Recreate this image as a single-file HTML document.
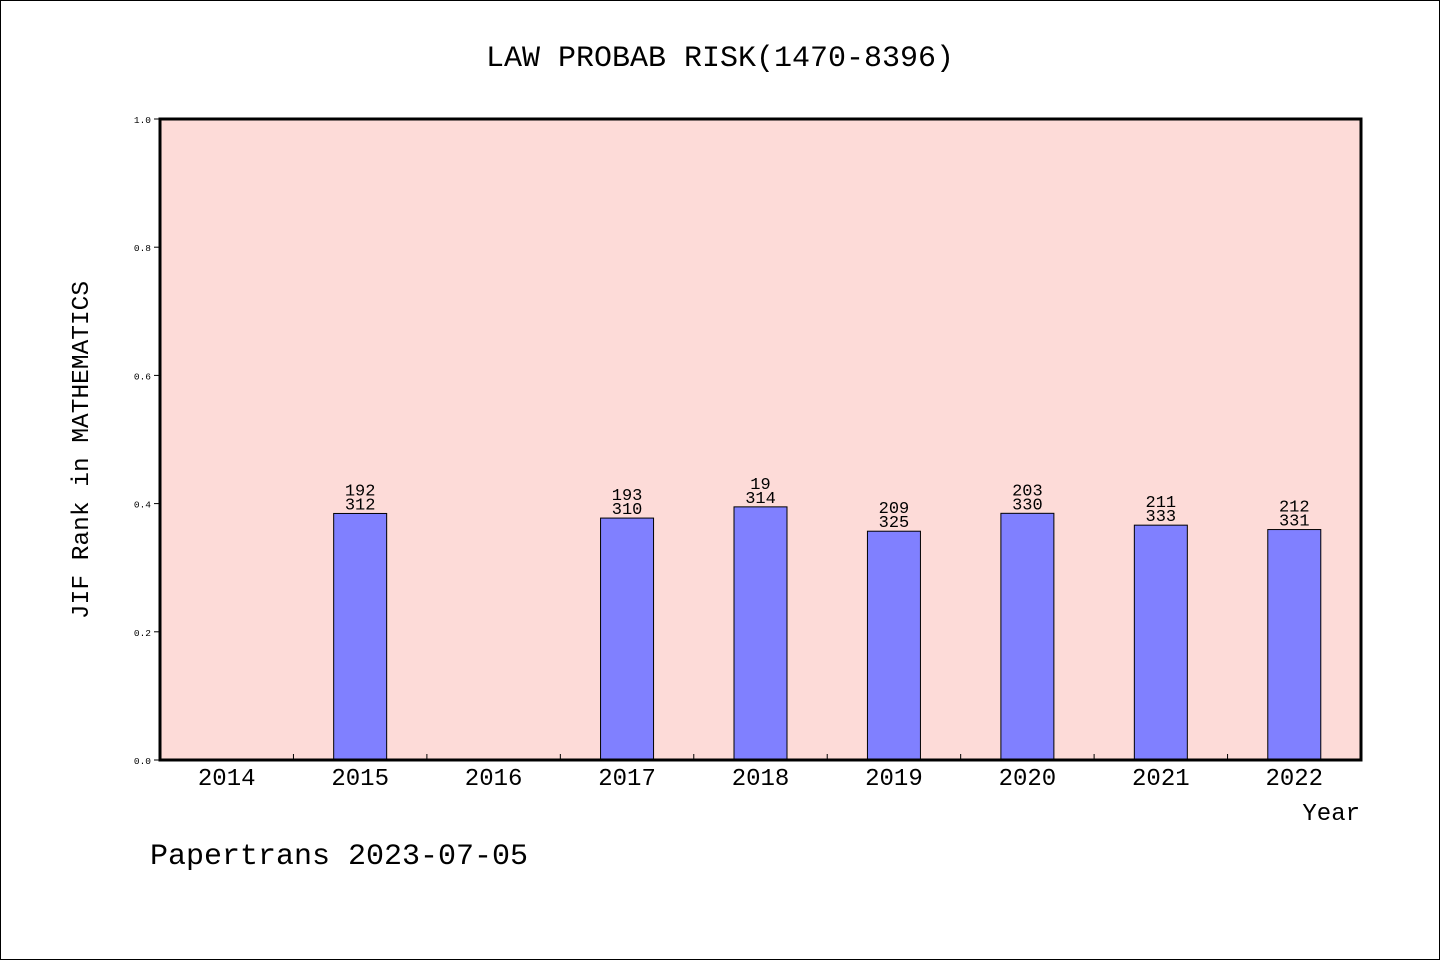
<!DOCTYPE html>
<html><head><meta charset="utf-8"><style>
html,body{margin:0;padding:0;background:#fff}
svg text{font-family:"Liberation Mono",monospace;fill:#000}
</style></head><body>
<svg id="chart" width="1440" height="960" xmlns="http://www.w3.org/2000/svg">
<rect x="0.5" y="0.5" width="1439" height="959" fill="#fff" stroke="#000"/>
<text x="720" y="66" text-anchor="middle" font-size="30">LAW PROBAB RISK(1470-8396)</text>
<rect x="160" y="119" width="1201" height="641" fill="#fddbd8"/>
<g id="bars"></g>
<g id="yticks"></g>
<g id="xticks"></g>
<rect x="160" y="119" width="1201" height="641" fill="none" stroke="#000" stroke-width="3"/>
<text transform="translate(88,450) rotate(-90)" text-anchor="middle" font-size="24.5">JIF Rank in MATHEMATICS</text>
<text x="1360" y="820" text-anchor="end" font-size="24">Year</text>
<text x="150" y="864" font-size="30">Papertrans 2023-07-05</text>
</svg>
<script>
const categories=["2014","2015","2016","2017","2018","2019","2020","2021","2022"];
const ranks=[null,192,null,193,190,209,203,211,212];
const rankLabels=["","192","","193","19","209","203","211","212"];
const totals=[null,312,null,310,314,325,330,333,331];
const yTicks=[0,0.2,0.4,0.6,0.8,1.0];
const NS="http://www.w3.org/2000/svg";
const x0=160,x1=1361,y0=760,y1=119;
const band=(x1-x0)/categories.length;
const xC=i=>x0+band*(i+0.5);
const yS=v=>y0-(v)*(y0-y1);
function mk(t,a,p){const e=document.createElementNS(NS,t);for(const k in a)e.setAttribute(k,a[k]);p.appendChild(e);return e;}
const gb=document.getElementById('bars'),gy=document.getElementById('yticks'),gx=document.getElementById('xticks');
categories.forEach((c,i)=>{
  if(ranks[i]!=null){
    const v=1-ranks[i]/totals[i];
    const r=mk('rect',{x:xC(i)-26.5,y:yS(v),width:53,height:y0-yS(v),fill:'#8080ff',stroke:'#000','stroke-width':1},gb);
    
    
    const t1=mk('text',{x:xC(i),y:yS(v)-18,'text-anchor':'middle','font-size':17},gb);
    t1.textContent=rankLabels[i];
    
    
    const t2=mk('text',{x:xC(i),y:yS(v)-4,'text-anchor':'middle','font-size':17},gb);
    t2.textContent=totals[i];
    
    
  }
  const t=mk('text',{x:xC(i),y:785,'text-anchor':'middle','font-size':24},gx);
  t.textContent=c;
  
  
  if(i>0){
    const l=mk('line',{x1:x0+band*i,x2:x0+band*i,y1:y0,y2:y0-6,stroke:'#000'},gx);
    
    
  }
});
yTicks.forEach(v=>{
  const l=mk('line',{x1:x0-6,x2:x0,y1:yS(v),y2:yS(v),stroke:'#000'},gy);
  
  
  const t=mk('text',{x:151,y:yS(v)+4,'text-anchor':'end','font-size':9.5},gy);
  t.textContent=v.toFixed(1);
  
  
});
</script>
</body></html>
